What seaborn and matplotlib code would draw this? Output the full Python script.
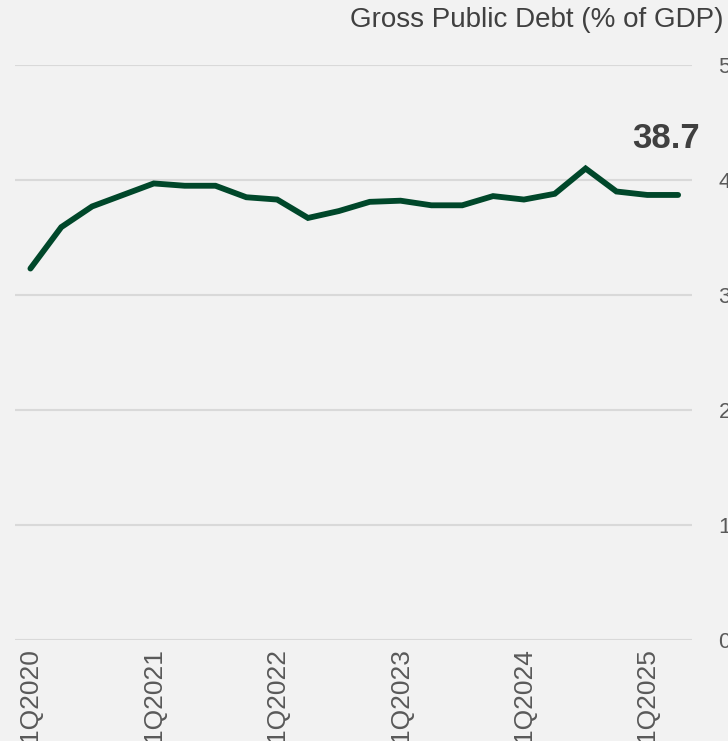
import pandas as pd
import seaborn as sns
import matplotlib.pyplot as plt

# quarterly gross public debt, % of GDP (1Q2020 .. 2Q2025)
quarters = [f'{q}Q{y}' for y in range(2020, 2026) for q in range(1, 5)][:22]
debt = [32.3, 35.9, 37.7, 38.7, 39.7, 39.5, 39.5, 38.5, 38.3, 36.7, 37.3,
        38.1, 38.2, 37.8, 37.8, 38.6, 38.3, 38.8, 41.0, 39.0, 38.7, 38.7]
last_label = '38.7'
yticks = [0, 10, 20, 30, 40, 50]

data = pd.DataFrame({'idx': range(len(quarters)), 'Quarter': quarters, 'Debt': debt})

sns.set_theme(style='white')
plt.rcParams['font.family'] = ['Liberation Sans', 'DejaVu Sans']

bg = '#f2f2f2'
grey = '#595959'
fig = plt.figure(figsize=(7.28, 7.41), dpi=100, facecolor=bg)
ax = fig.add_axes([15 / 728, 1 - 640 / 741, 677 / 728, 575 / 741])
ax.set_facecolor(bg)

sns.lineplot(data=data, x='idx', y='Debt', ax=ax, color='#00472a',
             linewidth=4.2, solid_capstyle='round', solid_joinstyle='miter')

ax.set_xlim(-0.5, 21.45)
ax.set_ylim(0, 50)
ax.set_yticks(yticks)
ax.yaxis.tick_right()
ax.tick_params(axis='y', length=0, pad=19, labelsize=16, labelcolor=grey)
ticks = list(range(0, len(quarters), 4))
ax.set_xticks(ticks)
ax.set_xticklabels([quarters[i] for i in ticks], rotation=90, va='top')
ax.tick_params(axis='x', length=0, pad=6, labelsize=19, labelcolor=grey)
ax.grid(axis='y', color='#d9d9d9', linewidth=1.5)
ax.set_axisbelow(True)
for s in ax.spines.values():
    s.set_visible(False)
ax.set_xlabel('')
ax.set_ylabel('')

ax.annotate(last_label, xy=(data['idx'].iloc[-1], debt[-1]), xytext=(-9, 41),
            textcoords='offset points', ha='center', va='center',
            fontsize=25, fontweight='bold', color='#404040')

fig.text(724 / 728, 1 - 20 / 741, 'Gross Public Debt (% of GDP)', ha='right',
         va='center', fontsize=20, color='#404040')

fig.savefig('out.png', dpi=100, facecolor=bg)
